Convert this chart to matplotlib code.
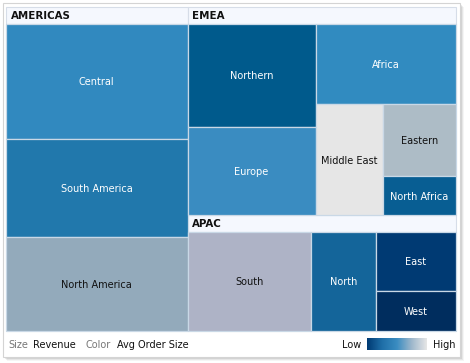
import matplotlib
matplotlib.use("Agg")
import matplotlib.pyplot as plt
from matplotlib.patches import Rectangle
from matplotlib.colors import LinearSegmentedColormap
import numpy as np

# ---------------- data ----------------
groups = ["AMERICAS", "EMEA", "APAC"]
americas_regions = ["Central", "South America", "North America"]
americas_revenue = [22.1, 18.8, 17.9]
emea_regions = ["Northern", "Europe", "Africa", "Middle East", "Eastern", "North Africa"]
emea_revenue = [14.4, 12.2, 12.3, 8.1, 5.7, 3.1]
apac_regions = ["South", "North", "East", "West"]
apac_revenue = [14.3, 7.5, 5.6, 3.7]

americas_colors = ["#3189bf", "#2178ac", "#93aabb"]
emea_colors = ["#005a8c", "#3a8cc1", "#318bc0", "#e6e6e6", "#adbcc6", "#085e93"]
apac_colors = ["#aeb3c6", "#14659a", "#003a73", "#002d5e"]

size_label = "Revenue"
color_label = "Avg Order Size"

# ---------------- layout helpers ----------------
HEADER = 16.5

def split(rect, weights, horizontal):
    x, y, w, h = rect
    tot = float(sum(weights))
    out = []
    pos = 0.0
    for wt in weights:
        f = wt / tot
        if horizontal:
            out.append((x + pos * w, y, w * f, h))
        else:
            out.append((x, y + pos * h, w, h * f))
        pos += f
    return out

def dark(c):
    r, g, b = matplotlib.colors.to_rgb(c)
    return (0.299 * r + 0.587 * g + 0.114 * b) < 0.55

fig = plt.figure(figsize=(4.70, 3.63), dpi=100)
ax = fig.add_axes([0, 0, 1, 1])
ax.set_xlim(0, 470)
ax.set_ylim(363, 0)
ax.axis("off")

# panel with shadow
for i, a in enumerate([0.04, 0.06, 0.08, 0.10]):
    d = 4 - i
    ax.add_patch(Rectangle((3 + d, 3 + d), 457, 354, facecolor="black", alpha=a,
                           edgecolor="none", zorder=0))
ax.add_patch(Rectangle((3, 3), 457, 354, facecolor="white", edgecolor="#d4d4d4",
                       linewidth=0.8, zorder=1))

FONT = "DejaVu Sans"
total_box = (6, 7, 450, 324)
group_vals = [sum(americas_revenue), sum(emea_revenue), sum(apac_revenue)]
left, right = split(total_box, [group_vals[0], group_vals[1] + group_vals[2]], True)
emea_box, apac_box = split(right, [group_vals[1], group_vals[2]], False)

def header(rect, name):
    x, y, w, h = rect
    ax.add_patch(Rectangle((x, y), w, HEADER, facecolor="#f5f8fe", edgecolor="#d6dde8",
                           linewidth=0.8, zorder=2))
    ax.text(x + 4.5, y + HEADER / 2 + 0.5, name, fontsize=7.4, fontweight="bold",
            family=FONT, color="#111111", va="center", ha="left", zorder=5)
    return (x, y + HEADER, w, h - HEADER)

def cell(rect, name, color):
    x, y, w, h = rect
    ax.add_patch(Rectangle((x, y), w, h, facecolor=color, edgecolor="#c9d8e6",
                           linewidth=0.9, zorder=3))
    ax.text(x + w / 2, y + h / 2 + 1, name, fontsize=7, family=FONT,
            color="white" if dark(color) else "#111111",
            ha="center", va="center", zorder=5)

# Americas
content = header(left, groups[0])
for r, n, c in zip(split(content, americas_revenue, False), americas_regions, americas_colors):
    cell(r, n, c)

# EMEA
content = header(emea_box, groups[1])
v = emea_revenue
colA, colB = split(content, [v[0] + v[1], sum(v[2:])], True)
for r, i in zip(split(colA, [v[0], v[1]], False), [0, 1]):
    cell(r, emea_regions[i], emea_colors[i])
africa, rest = split(colB, [v[2], sum(v[3:])], False)
cell(africa, emea_regions[2], emea_colors[2])
me, sub = split(rest, [v[3], v[4] + v[5]], True)
cell(me, emea_regions[3], emea_colors[3])
for r, i in zip(split(sub, [v[4], v[5]], False), [4, 5]):
    cell(r, emea_regions[i], emea_colors[i])

# APAC
content = header(apac_box, groups[2])
v = apac_revenue
parts = split(content, [v[0], v[1], v[2] + v[3]], True)
cell(parts[0], apac_regions[0], apac_colors[0])
cell(parts[1], apac_regions[1], apac_colors[1])
for r, i in zip(split(parts[2], [v[2], v[3]], False), [2, 3]):
    cell(r, apac_regions[i], apac_colors[i])

# legend
ly = 345
ax.text(8, ly, "Size", fontsize=7, family=FONT, color="#777777", va="center")
ax.text(33, ly, size_label, fontsize=7, family=FONT, color="#111111", va="center")
ax.text(86, ly, "Color", fontsize=7, family=FONT, color="#777777", va="center")
ax.text(117, ly, color_label, fontsize=7, family=FONT, color="#111111", va="center")
ax.text(361, ly, "Low", fontsize=7, family=FONT, color="#111111", va="center", ha="right")
ax.text(433, ly, "High", fontsize=7, family=FONT, color="#111111", va="center", ha="left")
cmap = LinearSegmentedColormap.from_list("lg", ["#003a73", "#1f6fa8", "#3a8cc1", "#9fb8cc", "#e6e6e6"])
grad = np.linspace(0, 1, 200).reshape(1, -1)
ax.imshow(grad, cmap=cmap, extent=(367, 427, 350, 338), aspect="auto", zorder=4)
ax.set_xlim(0, 470)
ax.set_ylim(363, 0)

fig.savefig("out.png", dpi=100)
